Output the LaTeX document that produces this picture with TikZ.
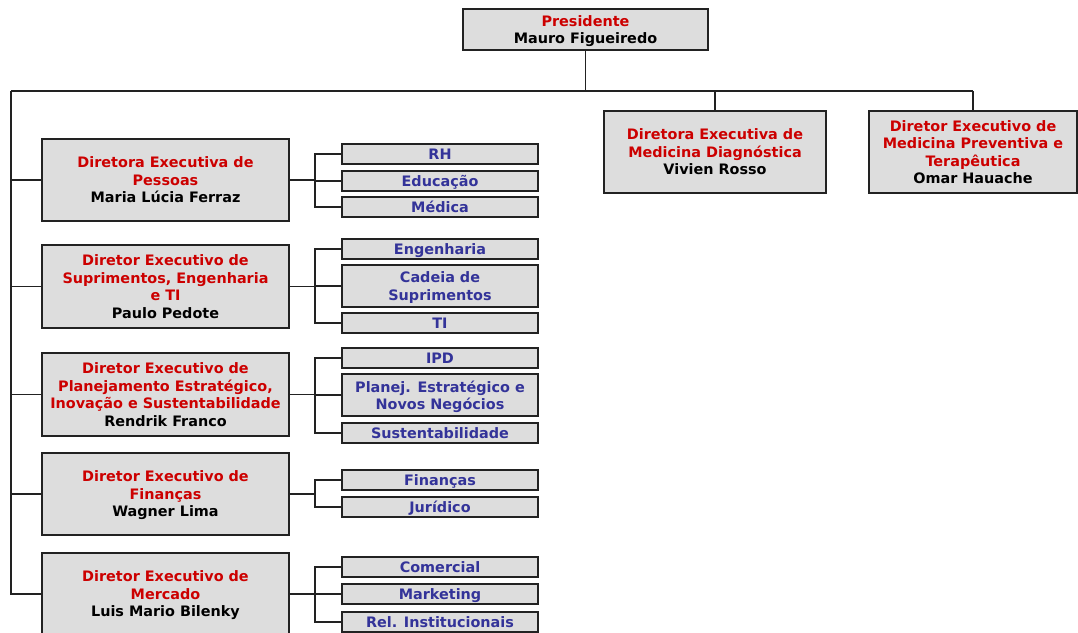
\documentclass[tikz,border=0pt]{standalone}
\usepackage{fontspec}
\setmainfont{DejaVu Sans}
\definecolor{cRed}{RGB}{204,0,0}
\definecolor{cBlue}{RGB}{51,51,153}
\definecolor{cFill}{RGB}{221,221,221}
\definecolor{cLine}{RGB}{34,34,34}
\newcommand{\rl}[1]{\textcolor{cRed}{#1}}
\begin{document}
\begin{tikzpicture}[x=1pt,y=-1pt,
  box/.style={draw=cLine, line width=1.3pt, fill=cFill, align=center, inner sep=0pt,
    text depth=0pt, font=\fontsize{14.4}{17.5}\selectfont\bfseries},
  dirbox/.style={box, minimum width=247pt, minimum height=82pt},
  subbox/.style={box, minimum width=196pt, minimum height=20pt, text=cBlue},
  conn/.style={draw=cLine, line width=1.2pt}]
\useasboundingbox (0,0) rectangle (1078,632);

% top level
\node[box, minimum width=245pt, minimum height=41pt] (pres) at (585.5,29.5) {\rl{Presidente}\\Mauro Figueiredo};
\node[box, minimum width=222pt, minimum height=82pt] (diag) at (715,152) {\rl{Diretora Executiva de}\\\rl{Medicina Diagnóstica}\\Vivien Rosso};
\node[box, minimum width=208pt, minimum height=82pt] (prev) at (973,152) {\rl{Diretor Executivo de}\\\rl{Medicina Preventiva e}\\\rl{Terapêutica}\\Omar Hauache};

% directors
\node[dirbox] (d1) at (165.5,180) {\rl{Diretora Executiva de}\\\rl{Pessoas}\\Maria Lúcia Ferraz};
\node[dirbox, minimum height=83pt] (d2) at (165.5,286.5) {\rl{Diretor Executivo de}\\\rl{Suprimentos, Engenharia}\\\rl{e TI}\\Paulo Pedote};
\node[dirbox, minimum height=83pt] (d3) at (165.5,394.5) {\rl{Diretor Executivo de}\\\rl{Planejamento Estratégico,}\\\rl{Inovação e Sustentabilidade}\\Rendrik Franco};
\node[dirbox] (d4) at (165.5,494) {\rl{Diretor Executivo de}\\\rl{Finanças}\\Wagner Lima};
\node[dirbox] (d5) at (165.5,594) {\rl{Diretor Executivo de}\\\rl{Mercado}\\Luis Mario Bilenky};

% sub units
\node[subbox] (s1a) at (440,154) {RH};
\node[subbox] (s1b) at (440,181) {Educação};
\node[subbox] (s1c) at (440,207) {Médica};
\node[subbox] (s2a) at (440,249) {Engenharia};
\node[subbox, minimum height=42pt] (s2b) at (440,286) {Cadeia de\\Suprimentos};
\node[subbox] (s2c) at (440,323) {TI};
\node[subbox] (s3a) at (440,358) {IPD};
\node[subbox, minimum height=42pt] (s3b) at (440,395) {Planej. Estratégico e\\Novos Negócios};
\node[subbox] (s3c) at (440,433) {Sustentabilidade};
\node[subbox] (s4a) at (440,480) {Finanças};
\node[subbox] (s4b) at (440,507) {Jurídico};
\node[subbox] (s5a) at (440,567) {Comercial};
\node[subbox] (s5b) at (440,594) {Marketing};
\node[subbox] (s5c) at (440,622) {Rel. Institucionais};

% bus
\coordinate (busL) at (11,91);
\coordinate (jx) at (315,0);
\draw[conn] (busL) -- (prev.north |- busL);
\draw[conn] (pres.south) -- (pres.south |- busL);
\draw[conn] (diag.north |- busL) -- (diag.north);
\draw[conn] (prev.north |- busL) -- (prev.north);
\draw[conn] (busL) |- (d5.west);
\foreach \d in {d1,d2,d3,d4}{
  \draw[conn] (busL |- \d.west) -- (\d.west);
}
\foreach \d in {d1,d2,d3,d4,d5}{
  \draw[conn] (\d.east) -- (\d.east -| jx);
}
% sub connectors
\draw[conn] (s1a.west) -| (jx |- s1c.west) -- (s1c.west);
\draw[conn] (jx |- s1b.west) -- (s1b.west);
\draw[conn] (s2a.west) -| (jx |- s2c.west) -- (s2c.west);
\draw[conn] (jx |- s2b.west) -- (s2b.west);
\draw[conn] (s3a.west) -| (jx |- s3c.west) -- (s3c.west);
\draw[conn] (jx |- s3b.west) -- (s3b.west);
\draw[conn] (s4a.west) -| (jx |- s4b.west) -- (s4b.west);
\draw[conn] (s5a.west) -| (jx |- s5c.west) -- (s5c.west);
\draw[conn] (jx |- s5b.west) -- (s5b.west);
\end{tikzpicture}
\end{document}
